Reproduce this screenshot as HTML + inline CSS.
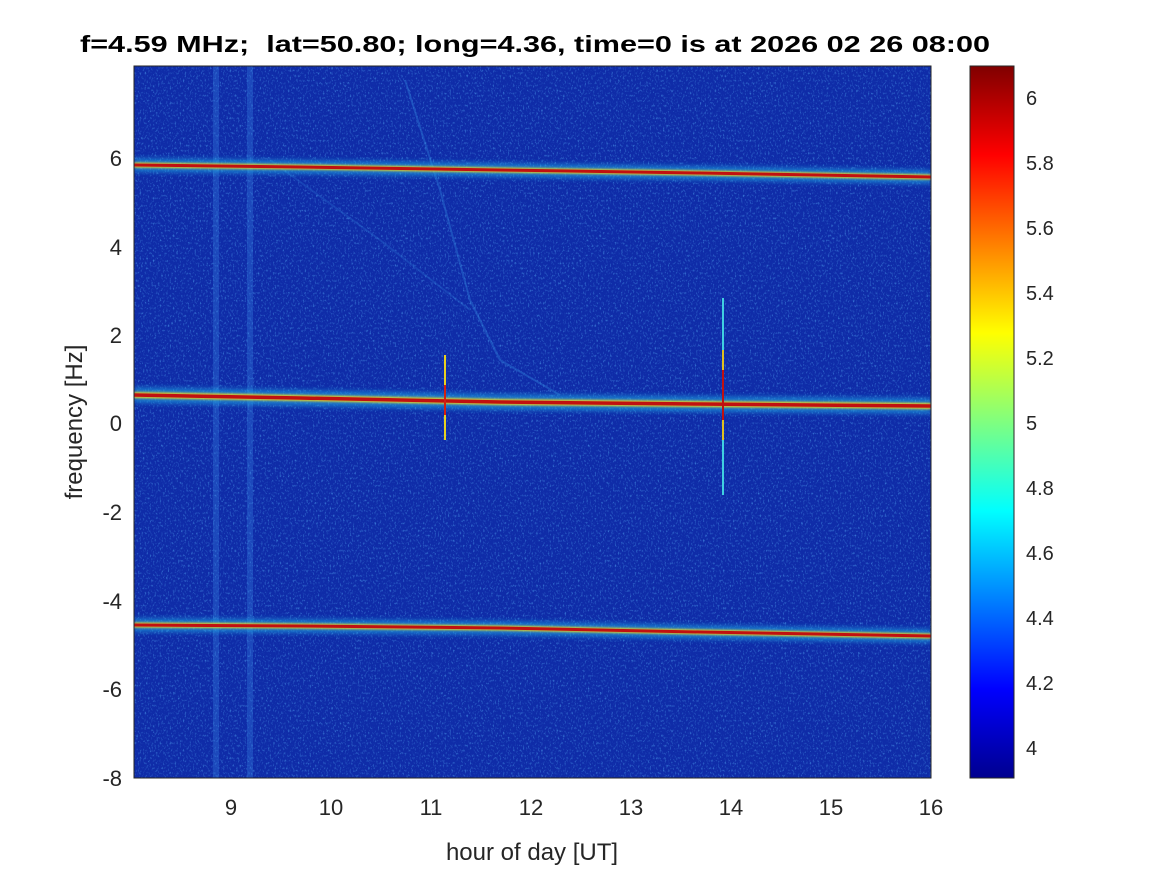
<!DOCTYPE html>
<html><head><style>
body{margin:0;background:#fff;width:1167px;height:875px;overflow:hidden}
text{font-family:"Liberation Sans",Arial,sans-serif;fill:#262626}
</style></head><body>
<svg width="1167" height="875" xmlns="http://www.w3.org/2000/svg">
<defs>
<filter id="n" x="0" y="0" width="100%" height="100%">
<feTurbulence type="fractalNoise" baseFrequency="0.6 0.4" numOctaves="2" seed="3"/>
<feColorMatrix type="matrix" values="0 0 0 0 0.1  0 0 0 0 0.45  0 0 0 0 0.95  0 0 0 -2.6 1.2"/>
</filter>
<filter id="b1"><feGaussianBlur stdDeviation="2.5"/></filter>
<filter id="b2"><feGaussianBlur stdDeviation="1"/></filter>
<linearGradient id="jet" x1="0" y1="1" x2="0" y2="0">
<stop offset="0" stop-color="#00008f"/>
<stop offset="0.125" stop-color="#0000ff"/>
<stop offset="0.375" stop-color="#00ffff"/>
<stop offset="0.625" stop-color="#ffff00"/>
<stop offset="0.875" stop-color="#ff0000"/>
<stop offset="1" stop-color="#800000"/>
</linearGradient>
<clipPath id="c"><rect x="134" y="66" width="797" height="712"/></clipPath>
</defs>
<text x="80" y="52" font-size="23" font-weight="bold" textLength="910" lengthAdjust="spacingAndGlyphs" style="fill:#000" xml:space="preserve">f=4.59 MHz;  lat=50.80; long=4.36, time=0 is at 2026 02 26 08:00</text>
<g clip-path="url(#c)">
<rect x="134" y="66" width="797" height="712" fill="#0f2ca8"/>
<rect x="134" y="66" width="797" height="712" filter="url(#n)" opacity="0.6"/>
<rect x="213" y="66" width="6" height="712" fill="#3a8ae8" opacity="0.3"/>
<rect x="247" y="66" width="6" height="712" fill="#3a8ae8" opacity="0.3"/>
<path d="M405,80 L440,190 L470,300 L500,360 L560,395" stroke="#3aa0f0" stroke-width="2" fill="none" opacity="0.3"/>
<path d="M270,160 L380,240 L470,310" stroke="#3aa0f0" stroke-width="2" fill="none" opacity="0.2"/>
<g fill="none" stroke-linejoin="round">
<g filter="url(#b1)">
<path d="M134,165 L300,167 L500,170 L700,173 L931,177" stroke="#20b0e8" stroke-width="14" opacity="0.55"/>
<path d="M134,395 L300,398 L500,402 L700,404 L931,406" stroke="#20b0e8" stroke-width="16" opacity="0.55"/>
<path d="M134,625 L300,626 L500,628 L700,632 L931,636" stroke="#20b0e8" stroke-width="14" opacity="0.55"/>
</g>
<g filter="url(#b2)">
<path d="M134,165 L300,167 L500,170 L700,173 L931,177" stroke="#e8d020" stroke-width="5"/>
<path d="M134,395 L300,398 L500,402 L700,404 L931,406" stroke="#e8d020" stroke-width="6"/>
<path d="M134,625 L300,626 L500,628 L700,632 L931,636" stroke="#e8d020" stroke-width="5"/>
</g>
<path d="M134,165 L300,167 L500,170 L700,173 L931,177" stroke="#c01010" stroke-width="3"/>
<path d="M134,395 L300,398 L500,402 L700,404 L931,406" stroke="#c01010" stroke-width="3.5"/>
<path d="M134,625 L300,626 L500,628 L700,632 L931,636" stroke="#c01010" stroke-width="3"/>
</g>
<rect x="444" y="355" width="2" height="85" fill="#e8d020"/>
<rect x="444" y="385" width="2" height="30" fill="#d02010"/>
<rect x="722" y="298" width="2" height="197" fill="#40d0e0"/>
<rect x="722" y="350" width="2" height="90" fill="#e0c020"/>
<rect x="722" y="370" width="2" height="50" fill="#c01010"/>
</g>
<rect x="134" y="66" width="797" height="712" fill="none" stroke="#262626" stroke-width="1"/>
<g font-size="22" text-anchor="middle">
<text x="231" y="815">9</text><text x="331" y="815">10</text><text x="431" y="815">11</text><text x="531" y="815">12</text><text x="631" y="815">13</text><text x="731" y="815">14</text><text x="831" y="815">15</text><text x="931" y="815">16</text>
</g>
<g font-size="22" text-anchor="end">
<text x="122" y="166">6</text><text x="122" y="255">4</text><text x="122" y="343">2</text><text x="122" y="431">0</text><text x="122" y="520">-2</text><text x="122" y="609">-4</text><text x="122" y="697">-6</text><text x="122" y="786">-8</text>
</g>
<text x="532" y="860" font-size="24" text-anchor="middle">hour of day [UT]</text>
<text transform="translate(82,422) rotate(-90)" font-size="24" text-anchor="middle">frequency [Hz]</text>
<rect x="970" y="66" width="44" height="712" fill="url(#jet)" stroke="#262626" stroke-width="1"/>
<g font-size="20">
<text x="1026" y="105">6</text><text x="1026" y="170">5.8</text><text x="1026" y="235">5.6</text><text x="1026" y="300">5.4</text><text x="1026" y="365">5.2</text><text x="1026" y="430">5</text><text x="1026" y="495">4.8</text><text x="1026" y="560">4.6</text><text x="1026" y="625">4.4</text><text x="1026" y="690">4.2</text><text x="1026" y="755">4</text>
</g>
</svg>
</body></html>
